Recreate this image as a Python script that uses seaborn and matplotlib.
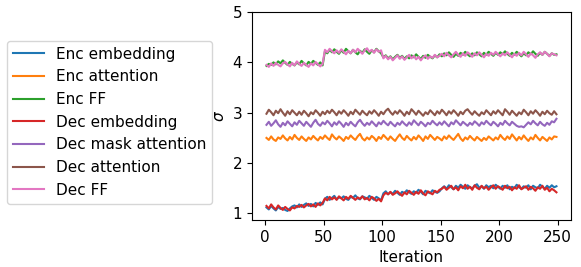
import matplotlib
matplotlib.use("Agg")
import matplotlib.pyplot as plt
import seaborn as sns
import pandas as pd

# iterations (every second step)
iterations = list(range(1, 251, 2))

enc_embedding = [
    1.12, 1.08, 1.15, 1.10, 1.06, 1.13, 1.09, 1.11, 1.07, 1.05, 1.10, 1.14, 1.16, 1.12, 1.18, 1.13, 1.17, 1.20, 1.15, 1.19, 1.14, 1.21, 1.17, 1.22, 1.18,
    1.29, 1.33, 1.27, 1.31, 1.35, 1.28, 1.32, 1.30, 1.34, 1.29, 1.27, 1.33, 1.31, 1.36, 1.30, 1.28, 1.34, 1.32, 1.29, 1.35, 1.31, 1.27, 1.33, 1.30, 1.26,
    1.40, 1.44, 1.38, 1.42, 1.39, 1.45, 1.41, 1.37, 1.43, 1.40, 1.46, 1.42, 1.39, 1.44, 1.41, 1.47, 1.43, 1.38, 1.45, 1.42, 1.40, 1.46, 1.43, 1.41, 1.44,
    1.50, 1.54, 1.49, 1.56, 1.52, 1.48, 1.55, 1.51, 1.57, 1.53, 1.49, 1.56, 1.52, 1.50, 1.55, 1.58, 1.51, 1.54, 1.49, 1.56, 1.52, 1.55, 1.50, 1.57, 1.53,
    1.49, 1.55, 1.51, 1.56, 1.48, 1.53, 1.50, 1.57, 1.52, 1.49, 1.54, 1.51, 1.56, 1.48, 1.55, 1.52, 1.50, 1.57, 1.53, 1.49, 1.55, 1.51, 1.56, 1.52, 1.54,
]
enc_attention = [
    2.50, 2.46, 2.53, 2.47, 2.44, 2.51, 2.48, 2.55, 2.49, 2.45, 2.52, 2.47, 2.56, 2.50, 2.46, 2.53, 2.48, 2.44, 2.51, 2.47, 2.54, 2.49, 2.45, 2.52, 2.48,
    2.55, 2.50, 2.46, 2.57, 2.51, 2.47, 2.53, 2.49, 2.44, 2.52, 2.48, 2.55, 2.50, 2.46, 2.53, 2.58, 2.49, 2.45, 2.51, 2.47, 2.54, 2.50, 2.44, 2.52, 2.48,
    2.56, 2.51, 2.46, 2.53, 2.48, 2.44, 2.51, 2.57, 2.50, 2.46, 2.54, 2.49, 2.45, 2.52, 2.47, 2.55, 2.50, 2.44, 2.53, 2.48, 2.56, 2.51, 2.46, 2.52, 2.49,
    2.45, 2.53, 2.48, 2.55, 2.50, 2.46, 2.52, 2.58, 2.49, 2.44, 2.51, 2.47, 2.54, 2.49, 2.45, 2.52, 2.48, 2.44, 2.50, 2.46, 2.53, 2.49, 2.45, 2.51, 2.47,
    2.56, 2.50, 2.46, 2.53, 2.48, 2.57, 2.51, 2.45, 2.52, 2.47, 2.55, 2.49, 2.44, 2.51, 2.47, 2.56, 2.50, 2.45, 2.52, 2.48, 2.44, 2.51, 2.47, 2.53, 2.52,
]
enc_ff = [
    3.93, 3.97, 3.95, 4.00, 3.96, 4.02, 3.98, 4.04, 3.99, 3.95, 4.01, 3.97, 3.94, 4.00, 3.96, 4.03, 3.98, 3.94, 4.01, 3.97, 4.03, 3.99, 3.95, 4.00, 3.94,
    4.22, 4.18, 4.25, 4.20, 4.26, 4.21, 4.17, 4.24, 4.19, 4.27, 4.22, 4.18, 4.25, 4.20, 4.16, 4.23, 4.19, 4.26, 4.21, 4.17, 4.24, 4.20, 4.27, 4.22, 4.18,
    4.10, 4.14, 4.08, 4.12, 4.06, 4.11, 4.15, 4.09, 4.13, 4.07, 4.12, 4.08, 4.14, 4.10, 4.16, 4.11, 4.07, 4.13, 4.09, 4.15, 4.11, 4.08, 4.14, 4.10, 4.16,
    4.12, 4.18, 4.14, 4.20, 4.15, 4.11, 4.17, 4.13, 4.19, 4.15, 4.21, 4.16, 4.12, 4.18, 4.14, 4.20, 4.16, 4.12, 4.19, 4.15, 4.21, 4.17, 4.13, 4.19, 4.15,
    4.20, 4.16, 4.22, 4.17, 4.13, 4.19, 4.15, 4.21, 4.17, 4.12, 4.18, 4.14, 4.20, 4.16, 4.22, 4.17, 4.13, 4.19, 4.15, 4.21, 4.17, 4.13, 4.18, 4.15, 4.16,
]
dec_embedding = [
    1.15, 1.10, 1.18, 1.12, 1.08, 1.16, 1.11, 1.07, 1.13, 1.09, 1.06, 1.12, 1.10, 1.15, 1.13, 1.17, 1.12, 1.16, 1.19, 1.14, 1.18, 1.13, 1.20, 1.16, 1.21,
    1.30, 1.26, 1.33, 1.28, 1.32, 1.27, 1.34, 1.30, 1.26, 1.33, 1.29, 1.35, 1.31, 1.27, 1.32, 1.29, 1.34, 1.28, 1.31, 1.26, 1.33, 1.30, 1.25, 1.29, 1.24,
    1.36, 1.41, 1.38, 1.43, 1.37, 1.40, 1.44, 1.39, 1.35, 1.42, 1.38, 1.45, 1.41, 1.37, 1.43, 1.39, 1.46, 1.40, 1.36, 1.44, 1.41, 1.38, 1.45, 1.42, 1.47,
    1.49, 1.53, 1.47, 1.51, 1.55, 1.48, 1.52, 1.46, 1.54, 1.50, 1.57, 1.49, 1.53, 1.47, 1.56, 1.51, 1.48, 1.55, 1.50, 1.53, 1.47, 1.52, 1.56, 1.49, 1.54,
    1.51, 1.47, 1.55, 1.50, 1.53, 1.46, 1.52, 1.49, 1.56, 1.48, 1.51, 1.54, 1.47, 1.53, 1.50, 1.45, 1.52, 1.49, 1.55, 1.47, 1.51, 1.44, 1.49, 1.46, 1.42,
]
dec_mask_attention = [
    2.76, 2.82, 2.74, 2.79, 2.85, 2.77, 2.72, 2.80, 2.75, 2.83, 2.78, 2.73, 2.81, 2.76, 2.84, 2.79, 2.74, 2.82, 2.77, 2.72, 2.80, 2.86, 2.78, 2.74, 2.81,
    2.77, 2.84, 2.79, 2.73, 2.81, 2.76, 2.83, 2.78, 2.72, 2.80, 2.75, 2.82, 2.77, 2.73, 2.81, 2.86, 2.79, 2.74, 2.80, 2.76, 2.83, 2.78, 2.73, 2.81, 2.77,
    2.84, 2.79, 2.75, 2.82, 2.77, 2.73, 2.80, 2.76, 2.83, 2.78, 2.74, 2.81, 2.76, 2.85, 2.80, 2.75, 2.82, 2.78, 2.73, 2.80, 2.77, 2.84, 2.79, 2.75, 2.81,
    2.76, 2.83, 2.78, 2.73, 2.81, 2.77, 2.85, 2.80, 2.75, 2.82, 2.78, 2.74, 2.80, 2.76, 2.83, 2.79, 2.74, 2.81, 2.77, 2.84, 2.79, 2.75, 2.82, 2.78, 2.73,
    2.80, 2.76, 2.84, 2.79, 2.75, 2.82, 2.78, 2.74, 2.72, 2.73, 2.71, 2.76, 2.81, 2.77, 2.84, 2.79, 2.75, 2.82, 2.77, 2.74, 2.80, 2.76, 2.83, 2.81, 2.88,
]
dec_attention = [
    2.98, 3.06, 3.01, 2.95, 3.04, 2.99, 3.07, 3.00, 2.94, 3.03, 2.97, 3.05, 3.00, 2.95, 3.02, 2.96, 3.04, 2.99, 2.93, 3.01, 2.97, 3.05, 3.00, 2.94, 3.02,
    2.97, 3.04, 2.99, 3.06, 3.01, 2.95, 3.03, 2.98, 3.05, 3.00, 2.94, 3.02, 2.97, 3.06, 3.01, 2.96, 3.04, 2.99, 2.95, 3.03, 2.98, 3.05, 3.00, 2.94, 3.02,
    2.97, 3.04, 3.08, 3.01, 2.96, 3.03, 2.98, 3.05, 3.00, 2.94, 3.02, 2.97, 3.07, 3.02, 2.96, 3.04, 2.99, 2.94, 3.01, 2.97, 3.05, 3.00, 2.95, 3.03, 2.98,
    3.06, 3.01, 2.95, 3.03, 2.98, 3.05, 3.00, 2.94, 3.02, 2.97, 3.04, 3.07, 3.01, 2.96, 3.03, 2.98, 2.94, 3.01, 2.97, 3.05, 3.00, 2.95, 3.03, 2.98, 3.05,
    3.00, 2.95, 3.07, 3.02, 2.96, 3.04, 2.99, 2.94, 3.01, 2.97, 3.06, 3.01, 2.95, 3.03, 2.98, 3.05, 3.00, 2.94, 3.02, 2.97, 3.04, 2.99, 2.96, 3.03, 2.97,
]
dec_ff = [
    3.95, 3.91, 3.98, 3.93, 3.99, 3.95, 3.92, 3.98, 4.01, 3.96, 3.92, 3.99, 3.94, 4.02, 3.97, 3.93, 3.99, 3.95, 3.91, 3.98, 3.94, 4.01, 3.96, 3.92, 3.97,
    4.25, 4.20, 4.27, 4.22, 4.18, 4.24, 4.19, 4.26, 4.21, 4.16, 4.23, 4.18, 4.25, 4.20, 4.27, 4.22, 4.17, 4.24, 4.28, 4.21, 4.25, 4.19, 4.26, 4.21, 4.24,
    4.08, 4.13, 4.06, 4.11, 4.04, 4.09, 4.14, 4.07, 4.12, 4.05, 4.10, 4.15, 4.08, 4.13, 4.06, 4.11, 4.04, 4.10, 4.14, 4.07, 4.12, 4.09, 4.15, 4.10, 4.13,
    4.17, 4.12, 4.19, 4.14, 4.10, 4.16, 4.21, 4.15, 4.11, 4.18, 4.13, 4.20, 4.16, 4.11, 4.18, 4.14, 4.20, 4.15, 4.10, 4.17, 4.13, 4.19, 4.15, 4.21, 4.16,
    4.12, 4.18, 4.14, 4.20, 4.15, 4.10, 4.17, 4.13, 4.19, 4.14, 4.21, 4.16, 4.11, 4.18, 4.14, 4.09, 4.16, 4.20, 4.15, 4.21, 4.17, 4.12, 4.18, 4.16, 4.14,
]

labels = ['Enc embedding', 'Enc attention', 'Enc FF', 'Dec embedding',
          'Dec mask attention', 'Dec attention', 'Dec FF']
series = [enc_embedding, enc_attention, enc_ff, dec_embedding,
          dec_mask_attention, dec_attention, dec_ff]

frames = []
for name, vals in zip(labels, series):
    frames.append(pd.DataFrame({'Iteration': iterations, 'sigma': vals, 'layer': name}))
df = pd.concat(frames, ignore_index=True)

plt.rcParams['font.size'] = 11
fig = plt.figure(figsize=(5.81, 2.67), dpi=100)
ax = fig.add_axes([0.4337, 0.176, 0.549, 0.779])

sns.lineplot(data=df, x='Iteration', y='sigma', hue='layer', hue_order=labels,
             palette='tab10', errorbar=None, linewidth=1.5, ax=ax)

ax.set_ylim(0.87, 5)
ax.set_yticks([1, 2, 3, 4, 5])
ax.set_xticks([0, 50, 100, 150, 200, 250])
ax.set_xlabel('Iteration')
ax.set_ylabel(r'$\sigma$')
ax.legend(loc='center right', bbox_to_anchor=(-0.1, 0.47), fontsize=11)

fig.savefig('out.png', dpi=100)
